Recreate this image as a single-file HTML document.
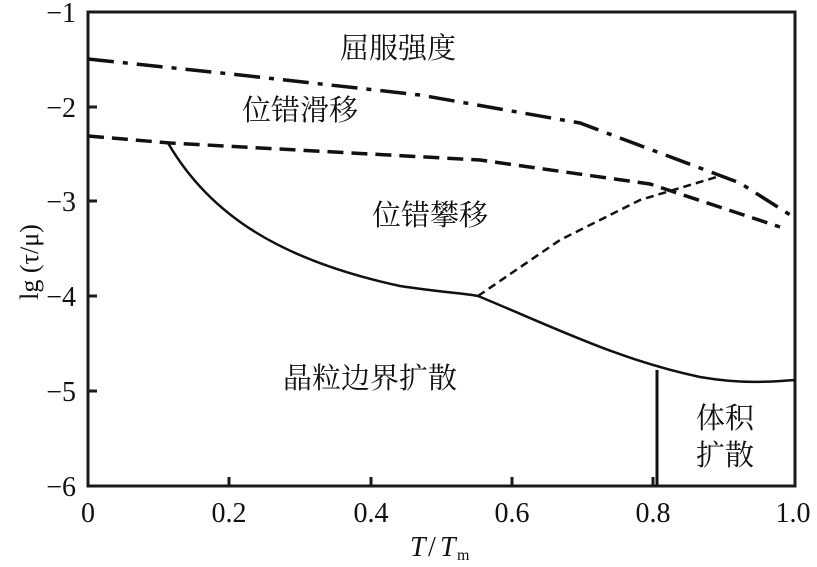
<!DOCTYPE html>
<html><head><meta charset="utf-8"><style>
body{margin:0;background:#fff}
svg{display:block}
text{font-family:"Liberation Serif","Noto Serif CJK SC",serif;fill:#111}
.cj{font-family:"Liberation Serif","Noto Serif CJK SC",serif;font-size:29px}
</style></head><body>
<svg width="817" height="567" viewBox="0 0 817 567">
<g stroke="#1a1a1a" stroke-width="3" fill="none">
<rect x="88" y="12" width="707" height="474"/>
<path d="M88 107h9M88 201h9M88 296h9M88 391h9"/>
<path d="M229 486v-9M371 486v-9M512 486v-9M653 486v-9"/>
</g>
<g font-size="28" text-anchor="end">
<text x="76" y="22">−1</text><text x="76" y="117">−2</text><text x="76" y="211">−3</text>
<text x="76" y="306">−4</text><text x="76" y="401">−5</text><text x="76" y="496">−6</text>
</g>
<g font-size="28" text-anchor="middle">
<text x="88" y="522">0</text><text x="229" y="522">0.2</text><text x="371" y="522">0.4</text>
<text x="512" y="522">0.6</text><text x="653" y="522">0.8</text><text x="793" y="522">1.0</text>
</g>
<text x="410" y="556" font-size="28" font-style="italic">T</text>
<text x="428" y="556" font-size="28">/</text>
<text x="440" y="556" font-size="28" font-style="italic">T</text>
<text x="457" y="560" font-size="16">m</text>
<text transform="translate(38,262) rotate(-90)" font-size="26" text-anchor="middle">lg (τ/μ)</text>
<g fill="none" stroke="#111" stroke-width="3.5">
<path d="M88 59 L240 75 L420 95 L580 123 L700 168 L740 183 L795 218" stroke-dasharray="26,9,5,9"/>
<path d="M88 136 L170 143 L480 160 L650 184 L780 227" stroke-dasharray="16,8"/>
<path d="M168 143 C210 215 280 260 400 286 C440 292 470 294 478 296 C560 330 620 360 700 377 C740 384 770 382 795 380" stroke-width="2.5"/>
<path d="M657 370 V486" stroke-width="3"/>
<path d="M478 296 L560 240 L640 200 L720 176" stroke-width="2.5" stroke-dasharray="8,5"/>
</g>
<text class="cj" x="398" y="58" text-anchor="middle">屈服强度</text>
<text class="cj" x="300" y="120" text-anchor="middle">位错滑移</text>
<text class="cj" x="430" y="225" text-anchor="middle">位错攀移</text>
<text class="cj" x="370" y="388" text-anchor="middle">晶粒边界扩散</text>
<text class="cj" x="725" y="428" text-anchor="middle">体积</text>
<text class="cj" x="725" y="465" text-anchor="middle">扩散</text>
</svg>
</body></html>
